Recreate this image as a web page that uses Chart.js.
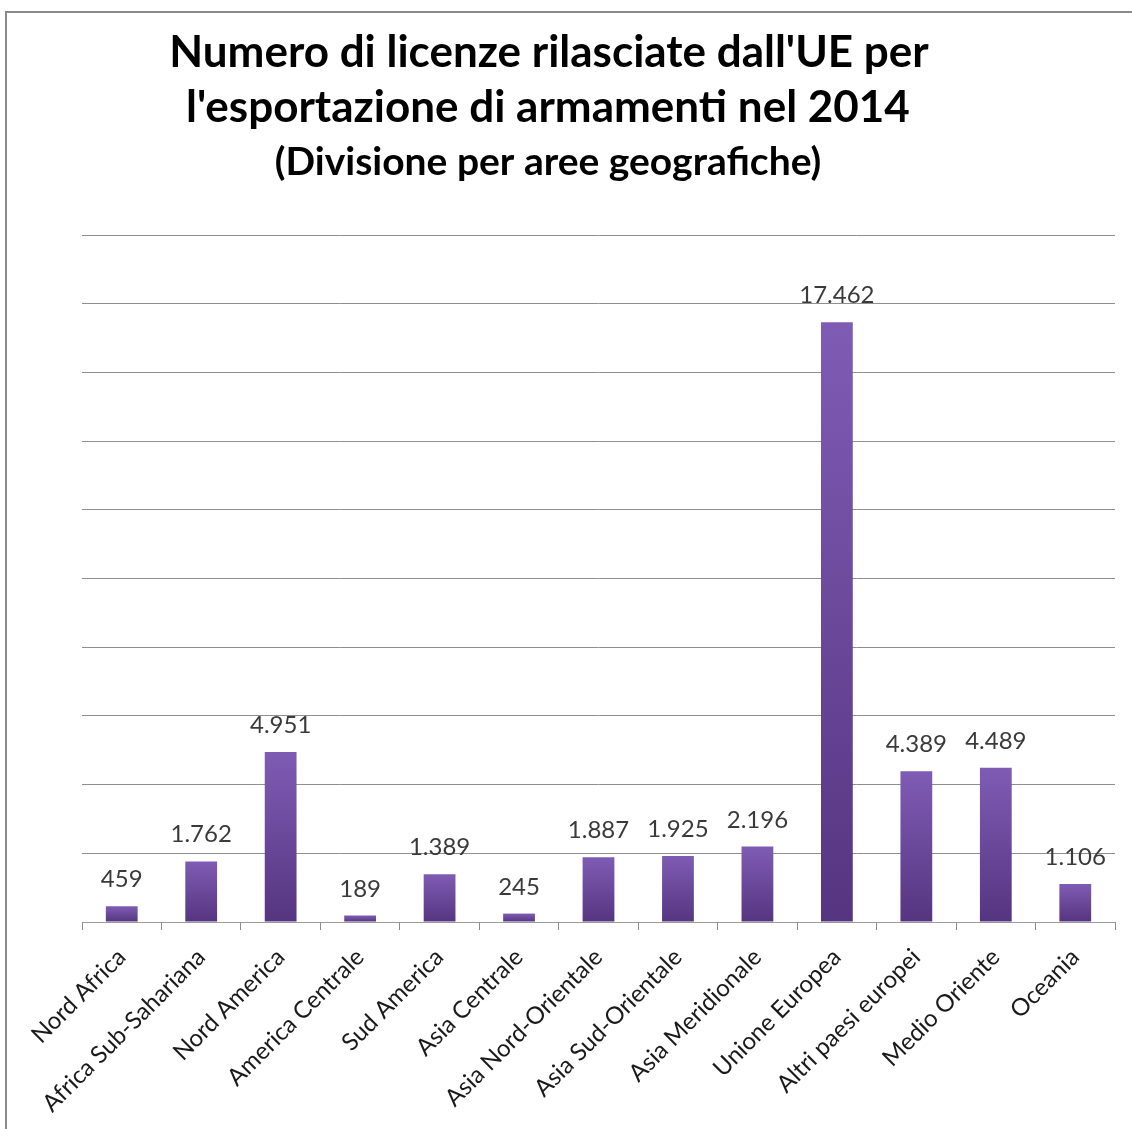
<!DOCTYPE html>
<html><head><meta charset="utf-8">
<script src="https://cdn.jsdelivr.net/npm/chart.js@4"></script>
<style>
html,body{margin:0;padding:0;background:#fff;}
#wrap{position:relative;width:1132px;height:1129px;overflow:hidden;background:#fff;}
#frame{position:absolute;left:5px;top:11px;width:1300px;height:1300px;border-top:2px solid #8a8a8a;border-left:2px solid #8a8a8a;}
canvas{position:absolute;left:0;top:0;}
</style></head><body>
<div id="wrap"><div id="frame"></div><canvas id="c" width="1132" height="1129"></canvas></div>
<script>
const categories = ['Nord Africa','Africa Sub-Sahariana','Nord America','America Centrale','Sud America','Asia Centrale','Asia Nord-Orientale','Asia Sud-Orientale','Asia Meridionale','Unione Europea','Altri paesi europei','Medio Oriente','Oceania'];
const values = [459,1762,4951,189,1389,245,1887,1925,2196,17462,4389,4489,1106];
const titleLines = ["Numero di licenze rilasciate dall'UE per","l'esportazione di armamenti nel 2014"];
const subtitleLine = '(Divisione per aree geografiche)';
const yMax = 20000;
const yStep = 2000;

function fmt(v){ return String(v).replace(/\B(?=(\d{3})+(?!\d))/g,'.'); }

const titlePlugin = {
  id:'titleText',
  afterDraw(chart){
    const ctx = chart.ctx; ctx.save();
    ctx.fillStyle = '#000'; ctx.textAlign='center'; ctx.textBaseline='alphabetic';
    ctx.font = 'bold 44px Lato';
    ctx.fillText(titleLines[0], 549, 67);
    ctx.fillText(titleLines[1], 548, 122);
    ctx.font = 'bold 39px Lato';
    ctx.fillText(subtitleLine, 548, 175);
    ctx.restore();
  }
};
const labelPlugin = {
  id:'barLabels',
  afterDatasetsDraw(chart){
    const ctx = chart.ctx; ctx.save();
    ctx.fillStyle = '#3a3a3a'; ctx.textAlign='center'; ctx.textBaseline='alphabetic';
    ctx.font = '24px Lato';
    const meta = chart.getDatasetMeta(0);
    meta.data.forEach((el,i)=>{ ctx.fillText(fmt(values[i]), el.x, el.y - 19); });
    ctx.restore();
  }
};

function barGradient(context){
  const chart = context.chart;
  const y = chart.scales && chart.scales.y;
  if(!y || context.raw === undefined) return '#6a479a';
  const top = y.getPixelForValue(context.raw);
  const base = y.getPixelForValue(0);
  if(!isFinite(top) || !isFinite(base) || top === base) return '#6a479a';
  const g = chart.ctx.createLinearGradient(0, top, 0, base);
  g.addColorStop(0, '#7f5cb4');
  g.addColorStop(1, '#553580');
  return g;
}

new Chart(document.getElementById('c'), {
  type:'bar',
  data:{ labels:categories, datasets:[{ data:values, backgroundColor:barGradient, borderWidth:0, barPercentage:0.8, categoryPercentage:0.5 }]},
  options:{
    responsive:false, animation:false,
    layout:{ padding:{ left:82, right:17, top:235, bottom:0 } },
    plugins:{ legend:{display:false}, tooltip:{enabled:false}, title:{display:false} },
    scales:{
      x:{
        grid:{ offset:true, drawOnChartArea:false, drawTicks:true, tickLength:8, color:'#8a8a8a' },
        border:{ display:true, color:'#9a9a9a', width:1 },
        ticks:{ minRotation:45, maxRotation:45, color:'#1a1a1a', font:{ family:'Lato', size:24 }, padding:13 },
        afterFit(scale){ scale.height = 207; }
      },
      y:{
        min:0, max:yMax,
        ticks:{ display:false, stepSize:yStep },
        grid:{ color:'#8f8f8f', drawTicks:false, lineWidth:1 },
        border:{ display:false }
      }
    }
  },
  plugins:[titlePlugin, labelPlugin]
});
</script>
</body></html>
